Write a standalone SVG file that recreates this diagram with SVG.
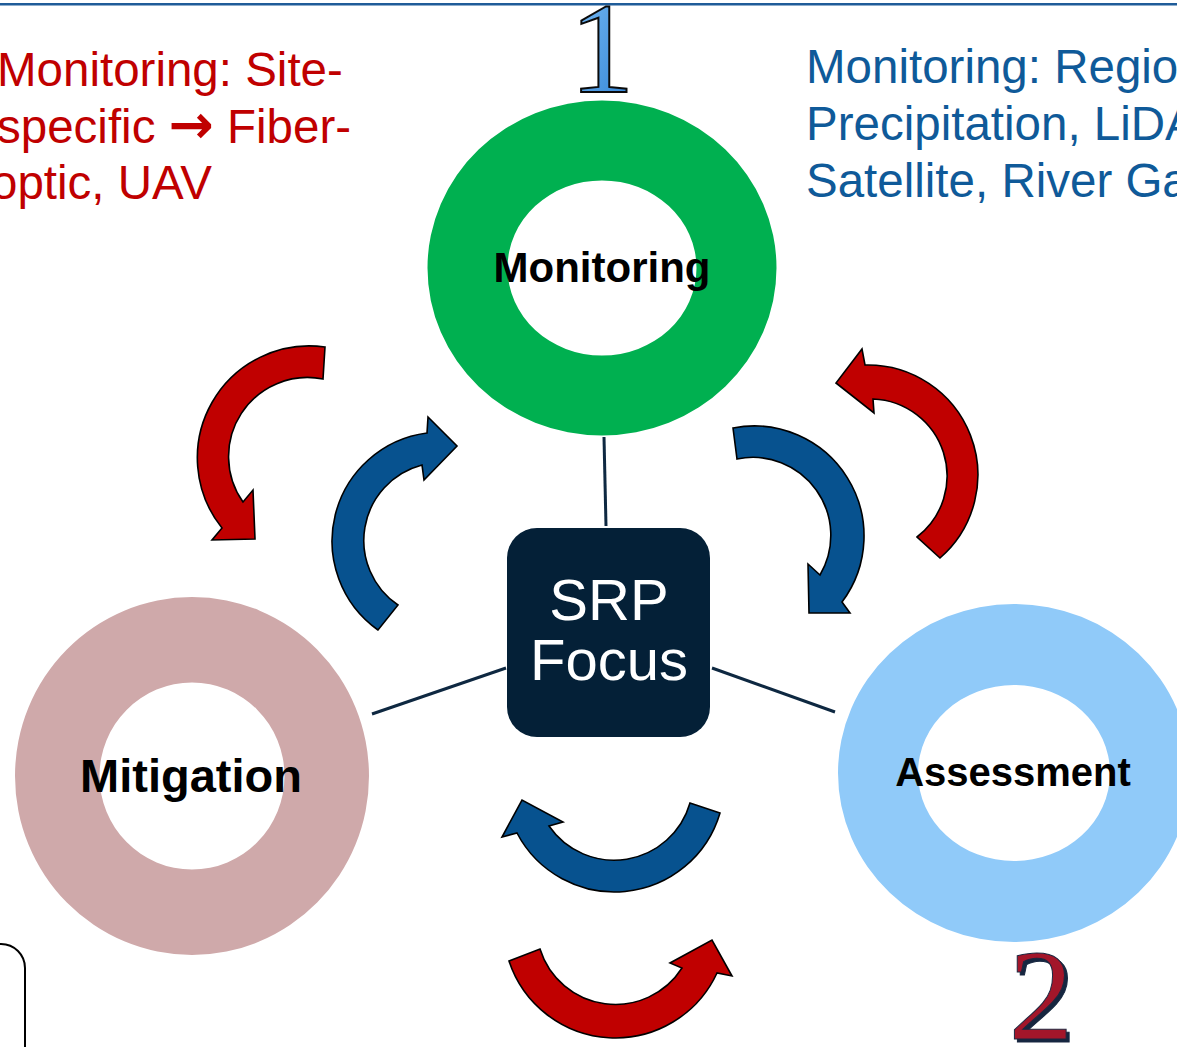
<svg xmlns="http://www.w3.org/2000/svg" width="1177" height="1047" viewBox="0 0 1177 1047">
  <defs>
    <style>
      .note { font-family: "Liberation Sans", Arial, sans-serif; font-size: 47.5px; }
      .red-note { fill: #C00000; }
      .blue-note { fill: #0F5A99; }
      .glyph-arrow { font-family: "DejaVu Sans", sans-serif; font-weight: bold; }
      .ring-label { font-family: "Liberation Sans", Arial, sans-serif; font-weight: bold; fill: #000; text-anchor: middle; }
      .hub-label { font-family: "Liberation Sans", Arial, sans-serif; font-size: 58px; fill: #FFFFFF; text-anchor: middle; }
      .link { stroke: #0E2841; stroke-width: 3; fill: none; }
      .arrow { stroke: #000; stroke-width: 1.6; stroke-linejoin: miter; }
      .arrow-red { fill: #C00000; }
      .arrow-blue { fill: #07528F; }
      .numeral { font-family: "Liberation Serif", "Times New Roman", serif; font-size: 129px; text-anchor: middle; }
    </style>
    <linearGradient id="oneFill" x1="0" y1="0" x2="1" y2="1">
      <stop offset="0" stop-color="#7DBFF5"/>
      <stop offset="1" stop-color="#2C7FD4"/>
    </linearGradient>
    <!-- navy drop shadow behind the red numeral -->
    <filter id="numShadow" x="-20%" y="-20%" width="150%" height="150%">
      <feOffset in="SourceAlpha" dx="3" dy="3" result="off"/>
      <feFlood flood-color="#14253F"/>
      <feComposite in2="off" operator="in" result="shadow"/>
      <feMerge>
        <feMergeNode in="shadow"/>
        <feMergeNode in="SourceGraphic"/>
      </feMerge>
    </filter>
  </defs>

  <rect x="0" y="0" width="1177" height="1047" fill="#FFFFFF"/>

  <!-- header rule -->
  <line x1="0" y1="4.3" x2="1177" y2="4.3" stroke="#1F5C99" stroke-width="2.5"/>

  <!-- side notes -->
  <g id="note-site">
    <text class="note red-note" x="-3" y="86">Monitoring: Site-</text>
    <text class="note red-note" x="-3" y="143">specific <tspan class="glyph-arrow" font-size="54">→</tspan> Fiber-</text>
    <text class="note red-note" x="-9" y="199">optic, UAV</text>
  </g>
  <g id="note-regional">
    <text class="note blue-note" x="806" y="83">Monitoring: Regio</text>
    <text class="note blue-note" x="806" y="140">Precipitation, LiDA</text>
    <text class="note blue-note" x="806" y="197">Satellite, River Ga</text>
  </g>

  <!-- step numerals -->
  <g id="numeral-1">
    <text class="numeral" x="602" y="92" fill="url(#oneFill)" stroke="#0A0A0A" stroke-width="2">1</text>
  </g>
  <g id="numeral-2">
    <text class="numeral" x="1041" y="1039" fill="#A3142A" stroke="#1B2740" stroke-width="1" filter="url(#numShadow)">2</text>
  </g>

  <!-- partial box at lower left -->
  <rect x="-200" y="944" width="225" height="200" rx="24" ry="24" fill="#FFFFFF" stroke="#000" stroke-width="2"/>

  <!-- spokes from hub to rings -->
  <g id="connectors">
    <line class="link" x1="604" y1="437" x2="606" y2="526"/>
    <line class="link" x1="372" y1="714" x2="506" y2="668"/>
    <line class="link" x1="712" y1="668" x2="835" y2="712"/>
  </g>

  <!-- rings -->
  <g id="monitoring">
    <path fill="#00B050" fill-rule="evenodd" d="M427.5,268 a174.5,167.5 0 1,0 349,0 a174.5,167.5 0 1,0 -349,0 Z M507.5,268 a94.5,87.5 0 1,0 189,0 a94.5,87.5 0 1,0 -189,0 Z"/>
    <text class="ring-label" x="602" y="282" font-size="42">Monitoring</text>
  </g>
  <g id="mitigation">
    <path fill="#CFA9AA" fill-rule="evenodd" d="M15,776 a177,179 0 1,0 354,0 a177,179 0 1,0 -354,0 Z M99.5,776 a92.5,93.5 0 1,0 185,0 a92.5,93.5 0 1,0 -185,0 Z"/>
    <text class="ring-label" x="191" y="792" font-size="47">Mitigation</text>
  </g>
  <g id="assessment">
    <path fill="#90CAF9" fill-rule="evenodd" d="M838,773 a176,169 0 1,0 352,0 a176,169 0 1,0 -352,0 Z M918,773 a96,88 0 1,0 192,0 a96,88 0 1,0 -192,0 Z"/>
    <text class="ring-label" x="1013" y="786" font-size="40">Assessment</text>
  </g>

  <!-- hub -->
  <g id="srp-focus">
    <rect x="507" y="528" width="203" height="209" rx="30" ry="30" fill="#042037"/>
    <text class="hub-label" x="609" y="620">SRP</text>
    <text class="hub-label" x="609" y="680">Focus</text>
  </g>

  <!-- cycle arrows -->
  <g id="cycle-arrows">
    <path class="arrow arrow-red" d="M325,347 A112,112 0 0,0 222,528 L212,540 L255,539 L253,490 L243,502 A79,79 0 0,1 323,379 Z"/>
    <path class="arrow arrow-blue" d="M378,630 A109,109 0 0,1 427,433 L428,417 L457,446 L424,480 L422,465 A78,78 0 0,0 398,605 Z"/>
    <path class="arrow arrow-blue" d="M733,428 A110,110 0 0,1 842,602 L850,613 L809,613 L808,564 L820,575 A78,78 0 0,0 737,459 Z"/>
    <path class="arrow arrow-red" d="M940,558 A110,110 0 0,0 865,365 L862,349 L836,383 L874,413 L873,399 A77,77 0 0,1 917,537 Z"/>
    <path class="arrow arrow-blue" d="M720,813 A110,110 0 0,1 517,833 L502,837 L522,800 L563,822 L549,826 A79,79 0 0,0 690,803 Z"/>
    <path class="arrow arrow-red" d="M509,961 A112,112 0 0,0 717,973 L732,976 L712,940 L670,963 L682,968 A79,79 0 0,1 540,949 Z"/>
  </g>
</svg>
